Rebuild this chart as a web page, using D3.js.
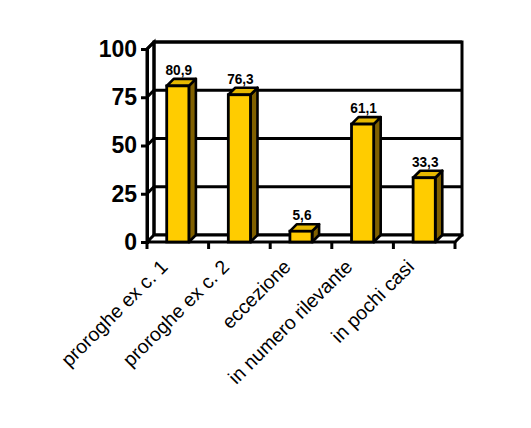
<!DOCTYPE html>
<html>
<head>
<meta charset="utf-8">
<script src="https://cdn.jsdelivr.net/npm/d3@7"></script>
<style>
  html, body { margin: 0; padding: 0; background: #ffffff; }
  svg { display: block; }
  text { font-family: Arial, "Liberation Sans", sans-serif; fill: #000; }
</style>
</head>
<body>
<svg id="chart" width="531" height="428"></svg>
<script>
const categories = ["proroghe ex c. 1", "proroghe ex c. 2", "eccezione", "in numero rilevante", "in pochi casi"];
const values = [80.9, 76.3, 5.6, 61.1, 33.3];
const valueLabels = ["80,9", "76,3", "5,6", "61,1", "33,3"];
const yTicks = [0, 25, 50, 75, 100];

const svg = d3.select("#chart");
const DX = 7, DY = -7;           // 3D depth offset
const x = d3.scaleBand().domain(categories).range([147, 455]).paddingInner(0.64).paddingOuter(0.32);
const y = d3.scaleLinear().domain([0, 100]).range([242, 49]);
const x0 = x.range()[0], x1 = x.range()[1], y0 = y(0), yTop = y(100);

const lineW = 3;
const g = svg.append("g");

// back wall
g.append("rect").attr("x", x0 + DX).attr("y", yTop + DY).attr("width", x1 - x0).attr("height", y0 - yTop)
  .attr("fill", "#fff").attr("stroke", "#000").attr("stroke-width", lineW);

// gridlines (side wall + back wall)
g.selectAll("path.grid").data(yTicks.slice(1)).join("path").attr("class", "grid")
  .attr("d", v => `M${x0},${y(v)} L${x0 + DX},${y(v) + DY} L${x1 + DX},${y(v) + DY}`)
  .attr("fill", "none").attr("stroke", "#000").attr("stroke-width", lineW);

// left side wall edge
g.append("path").attr("d", `M${x0},${y0} L${x0},${yTop} L${x0 + DX},${yTop + DY} L${x0 + DX},${y0 + DY}`)
  .attr("fill", "none").attr("stroke", "#000").attr("stroke-width", lineW);

// floor
g.append("path").attr("d", `M${x0},${y0} L${x1},${y0} L${x1 + DX},${y0 + DY} L${x0 + DX},${y0 + DY} Z`)
  .attr("fill", "#fff").attr("stroke", "#000").attr("stroke-width", lineW).attr("stroke-linejoin", "round");

// bars
const data = categories.map((c, i) => ({ c, v: values[i], label: valueLabels[i] }));
const bw = x.bandwidth();
const bars = g.selectAll("g.bar").data(data).join("g").attr("class", "bar");
bars.append("path") // side
  .attr("d", d => { const a = x(d.c) + bw, t = y(d.v);
    return `M${a},${t} L${a + DX},${t + DY} L${a + DX},${y0 + DY} L${a},${y0} Z`; })
  .attr("fill", "#806000").attr("stroke", "#000").attr("stroke-width", 2.6).attr("stroke-linejoin", "round");
bars.append("path") // top
  .attr("d", d => { const a = x(d.c), t = y(d.v);
    return `M${a},${t} L${a + DX},${t + DY} L${a + bw + DX},${t + DY} L${a + bw},${t} Z`; })
  .attr("fill", "#E6B800").attr("stroke", "#000").attr("stroke-width", 2.6).attr("stroke-linejoin", "round");
bars.append("rect") // front
  .attr("x", d => x(d.c)).attr("y", d => y(d.v)).attr("width", bw).attr("height", d => y0 - y(d.v))
  .attr("fill", "#FFCC00").attr("stroke", "#000").attr("stroke-width", 2.8);
bars.append("text")
  .attr("transform", d => `translate(${x(d.c) + bw / 2 + 1},${y(d.v) + DY - 4}) scale(0.88,1)`)
  .attr("text-anchor", "middle").attr("font-size", 15.5).attr("font-weight", "bold")
  .text(d => d.label);

// y axis
const yAxis = d3.axisLeft(y).tickValues(yTicks).tickSize(6).tickPadding(4).tickFormat(d3.format("d"));
const ya = svg.append("g").attr("transform", `translate(${x0},0)`).call(yAxis);
ya.select(".domain").attr("stroke-width", lineW);
ya.selectAll(".tick line").attr("stroke-width", lineW);
ya.selectAll(".tick text").attr("font-size", 23).attr("font-weight", "bold")
  .attr("font-family", "Arial, 'Liberation Sans', sans-serif").attr("fill", "#000");

// x axis ticks at band boundaries
const bounds = d3.range(categories.length + 1).map(i => x0 + i * x.step());
svg.append("g").selectAll("line").data(bounds).join("line")
  .attr("x1", d => d).attr("x2", d => d).attr("y1", y0).attr("y2", y0 + 7)
  .attr("stroke", "#000").attr("stroke-width", lineW);

// category labels
svg.append("g").selectAll("text").data(categories).join("text")
  .attr("transform", c => `translate(${x(c) + bw / 2 - 9},${y0 + 26}) rotate(-45)`)
  .attr("text-anchor", "end").attr("font-size", 19.5)
  .text(c => c);
</script>
</body>
</html>
